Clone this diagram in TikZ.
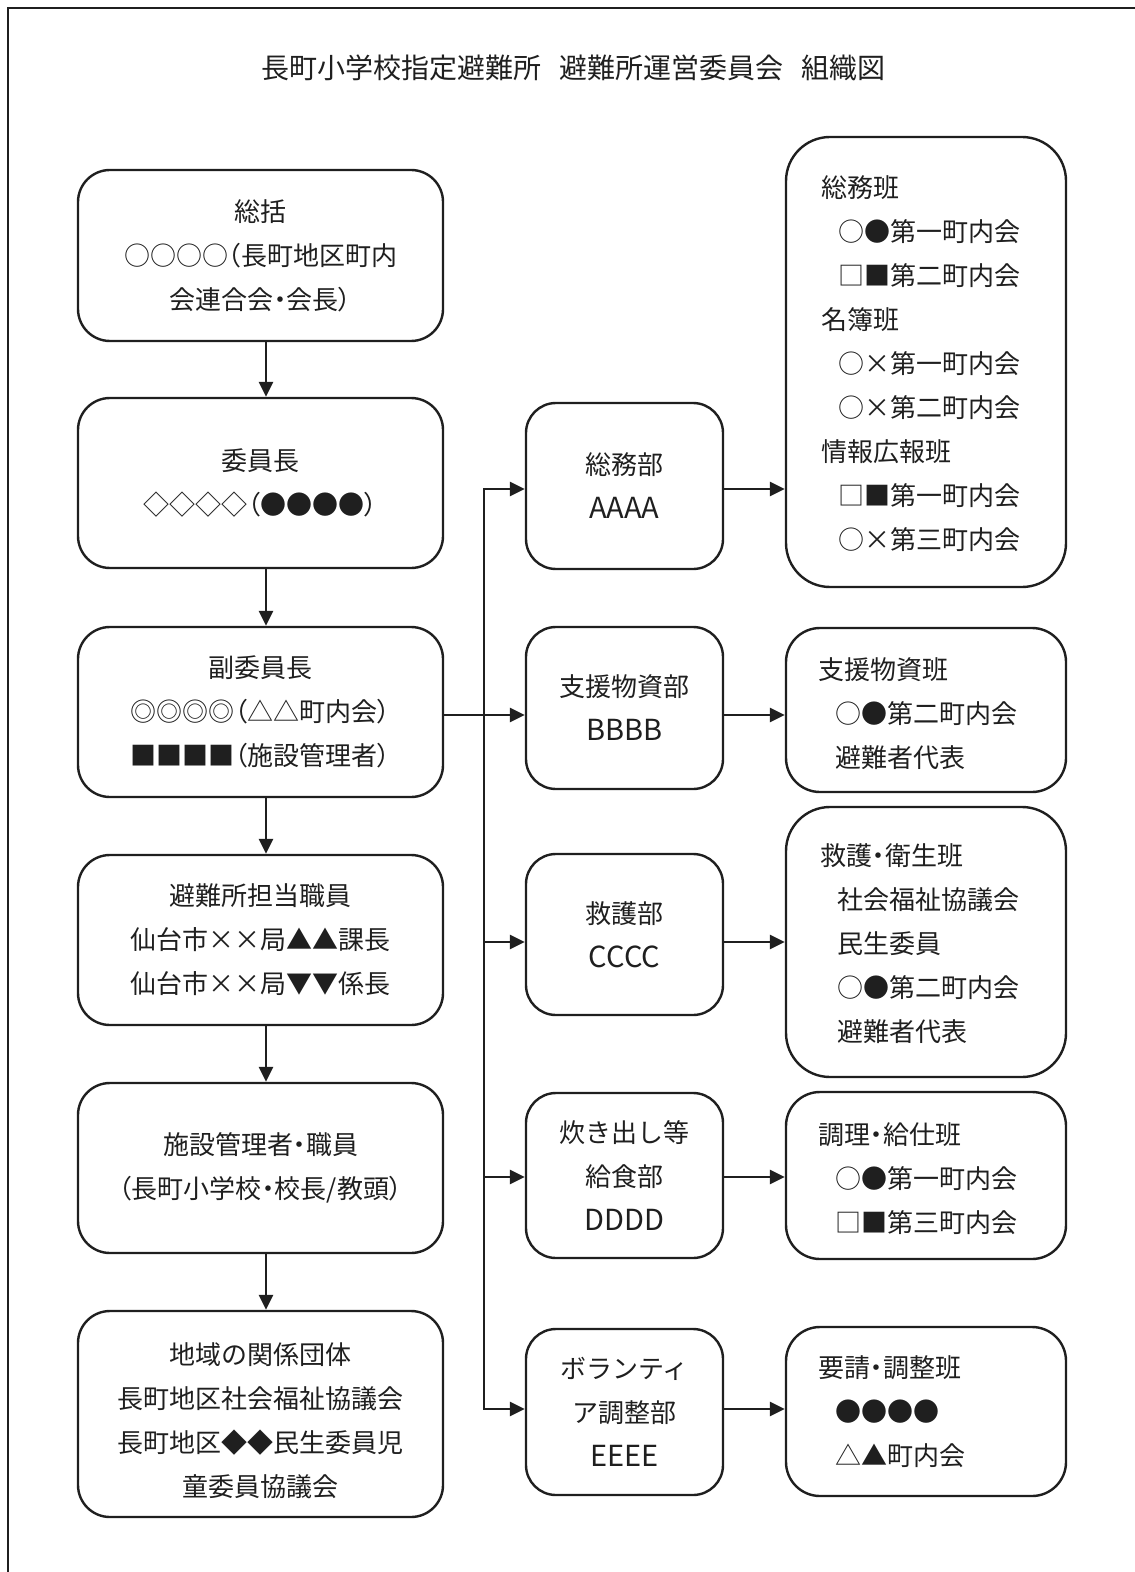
\documentclass[tikz,border=0pt]{standalone}
\usepackage{fontspec}
\setmainfont{Noto Sans CJK JP}
\newfontfamily\paltfont[RawFeature=+palt]{Noto Sans CJK JP}
\usetikzlibrary{arrows.meta,calc}
\newcommand{\subind}{\hspace*{8.5pt}}
\newcommand{\latn}[1]{{\fontsize{14.5pt}{22pt}\selectfont #1}}
\newcommand{\kl}{{\paltfont （}}
\newcommand{\kr}{{\paltfont ）}}
\newcommand{\nk}{{\paltfont ・}}
\begin{document}
\begin{tikzpicture}[x=0.5pt,y=-0.5pt,
  every node/.style={font=\fontsize{13pt}{22pt}\selectfont, text=black!88},
  lbox/.style={draw=black!88, line width=1.2pt, rounded corners=16pt, align=center, inner sep=0pt, minimum width=182.5pt},
  mbox/.style={draw=black!88, line width=1.2pt, rounded corners=15pt, align=center, inner sep=0pt, minimum width=98.5pt},
  rbox/.style={draw=black!88, line width=1.2pt, rounded corners=17pt, align=left, inner xsep=16pt, inner ysep=0pt, text width=108pt, minimum width=140pt},
  arr/.style={draw=black!88, line width=1.3pt, -{Triangle[length=7.5pt,width=7pt]}},
  bus/.style={draw=black!88, line width=1.3pt},
  frame/.style={draw=black!88, line width=1pt}]
\useasboundingbox (0,0) rectangle (1134,1572);
% frame (top and left edges visible)
\draw[frame] (8,1580) -- (8,8) -- (1140,8);

% title
\node[font=\fontsize{14pt}{20pt}\selectfont] (title) at (573.5,68)
  {長町小学校指定避難所\hspace{9pt}避難所運営委員会\hspace{9pt}組織図};

% left column
\node[lbox, minimum height=85.5pt] (b1) at (260.5,255.5) {総括\\○○○○\kl{}長町地区町内\\会連合会\nk{}会長\kr};
\node[lbox, minimum height=85pt] (b2) at (260.5,483) {委員長\\◇◇◇◇\kl{}●●●●\kr};
\node[lbox, minimum height=85pt] (b3) at (260.5,712) {副委員長\\◎◎◎◎\kl{}△△町内会\kr\\■■■■\kl{}施設管理者\kr};
\node[lbox, minimum height=85pt] (b4) at (260.5,940) {避難所担当職員\\仙台市××局▲▲課長\\仙台市××局▼▼係長};
\node[lbox, minimum height=85pt] (b5) at (260.5,1168) {施設管理者\nk{}職員\\\kl{}長町小学校\nk{}校長/教頭\kr};
\node[lbox, minimum height=103pt] (b6) at (260.5,1414) {\rule{0pt}{18pt}地域の関係団体\\長町地区社会福祉協議会\\長町地区◆◆民生委員児\\童委員協議会};

% middle column
\node[mbox, minimum height=83pt] (A) at (624.5,486) {総務部\\\latn{AAAA}};
\node[mbox, minimum height=81pt] (B) at (624.5,708) {支援物資部\\\latn{BBBB}};
\node[mbox, minimum height=80.5pt] (C) at (624.5,934.5) {救護部\\\latn{CCCC}};
\node[mbox, minimum height=82.5pt] (D) at (624.5,1175.5) {炊き出し等\\給食部\\\latn{DDDD}};
\node[mbox, minimum height=83pt] (E) at (624.5,1412) {ボランティ\\ア調整部\\\latn{EEEE}};

% right column
\node[rbox, minimum height=225pt, rounded corners=22pt, inner xsep=17.5pt, text width=105pt] (R1) at (926,362)
  {\rule{0pt}{13pt}総務班\\\subind{}○●第一町内会\\\subind{}□■第二町内会\\名簿班\\\subind{}○×第一町内会\\\subind{}○×第二町内会\\情報広報班\\\subind{}□■第一町内会\\\subind{}○×第三町内会};
\node[rbox, minimum height=82pt] (R2) at (926,710)
  {\rule{0pt}{15pt}支援物資班\\\subind{}○●第二町内会\\\subind{}避難者代表};
\node[rbox, minimum height=135pt, rounded corners=22pt, inner xsep=17pt, text width=106pt] (R3) at (926,942)
  {\rule{0pt}{13pt}救護\nk{}衛生班\\\subind{}社会福祉協議会\\\subind{}民生委員\\\subind{}○●第二町内会\\\subind{}避難者代表};
\node[rbox, minimum height=83.5pt] (R4) at (926,1175.5)
  {\rule{0pt}{14pt}調理\nk{}給仕班\\\subind{}○●第一町内会\\\subind{}□■第三町内会};
\node[rbox, minimum height=84.5pt] (R5) at (926,1411.5)
  {要請\nk{}調整班\\\subind{}●●●●\\\subind{}△▲町内会};

% left column arrows
\draw[arr] ($(b1.south)+(5.5,0)$) -- ($(b2.north)+(5.5,0)$);
\draw[arr] ($(b2.south)+(5.5,0)$) -- ($(b3.north)+(5.5,0)$);
\draw[arr] ($(b3.south)+(5.5,0)$) -- ($(b4.north)+(5.5,0)$);
\draw[arr] ($(b4.south)+(5.5,0)$) -- ($(b5.north)+(5.5,0)$);
\draw[arr] ($(b5.south)+(5.5,0)$) -- ($(b6.north)+(5.5,0)$);

% bus
\coordinate (busA) at (484,489);
\coordinate (busB) at (484,715);
\coordinate (busC) at (484,942);
\coordinate (busD) at (484,1177);
\coordinate (busE) at (484,1409);
\draw[bus] (busA) -- (busE);
\draw[arr] (busE) -- (busA) -- (A.west |- busA);
\draw[arr] (b3.east |- busB) -- (B.west |- busB);
\draw[arr] (busC) -- (C.west |- busC);
\draw[arr] (busD) -- (D.west |- busD);
\draw[arr] (busA) -- (busE) -- (E.west |- busE);

% middle to right
\draw[arr] (A.east |- busA) -- (R1.west |- busA);
\draw[arr] (B.east |- busB) -- (R2.west |- busB);
\draw[arr] (C.east |- busC) -- (R3.west |- busC);
\draw[arr] (D.east |- busD) -- (R4.west |- busD);
\draw[arr] (E.east |- busE) -- (R5.west |- busE);
\end{tikzpicture}
\end{document}
